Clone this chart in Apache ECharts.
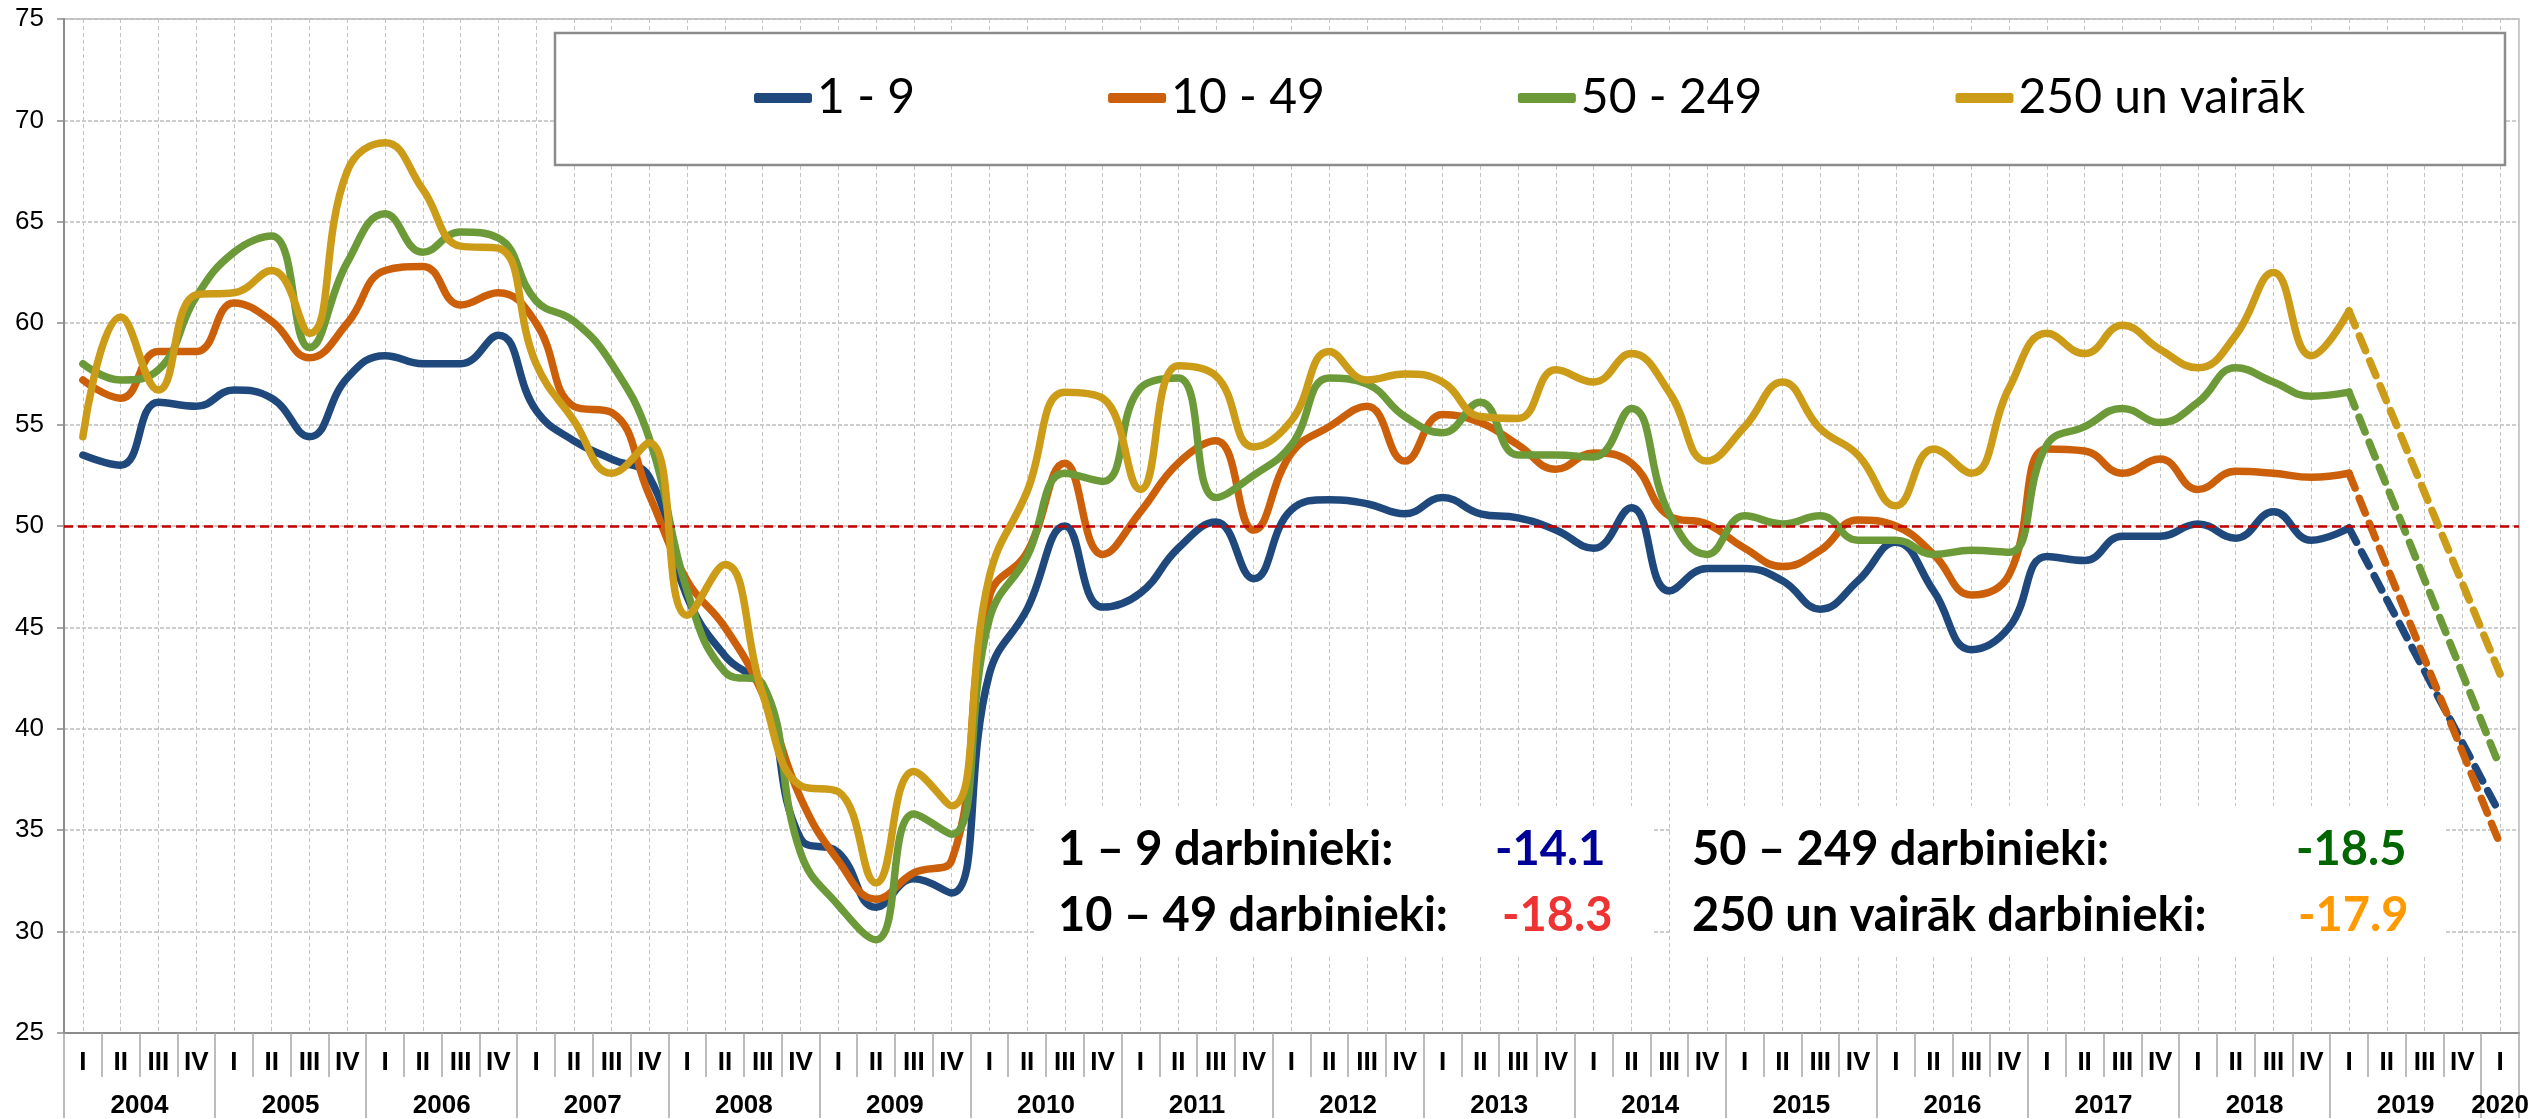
<!DOCTYPE html>
<html>
<head>
<meta charset="utf-8">
<title>Uzņēmumu grupas pēc darbinieku skaita</title>
<script src="https://cdn.jsdelivr.net/npm/echarts@6/dist/echarts.min.js"></script>
<style>
  html, body { margin: 0; padding: 0; background: #fff; }
  #main { width: 2532px; height: 1119px; }
</style>
</head>
<body>
<div id="main"></div>
<script>
// tick labels
const years = ['2004', '2005', '2006', '2007', '2008', '2009', '2010', '2011', '2012',
  '2013', '2014', '2015', '2016', '2017', '2018', '2019', '2020'];
const quarterNames = ['I', 'II', 'III', 'IV'];
const seriesNames = ['1 - 9', '10 - 49', '50 - 249', '250 un vairāk'];
const seriesColors = ['#1f497d', '#cc5f0a', '#6c9a38', '#cc9b17'];

// 2004 I ... 2019 I (solid lines)
const s1_9 = [53.5, 53.0, 56.1, 55.9, 56.7, 56.3, 54.4, 57.3, 58.4, 58.0, 58.0, 59.4,
  55.7, 54.2, 53.3, 52.4, 46.5, 43.6, 41.9, 34.6, 33.9, 31.2, 32.6, 31.9,
  42.7, 45.9, 50.0, 46.0, 46.7, 48.9, 50.2, 47.4, 50.8, 51.3, 51.1, 50.6,
  51.4, 50.6, 50.4, 49.8, 48.9, 50.9, 46.8, 47.9, 47.9, 47.3, 45.9, 47.3,
  49.2, 46.8, 43.9, 45.0, 48.5, 48.3, 49.5, 49.5, 50.1, 49.4, 50.7, 49.3, 49.9];
const s10_49 = [57.2, 56.3, 58.6, 58.6, 61.0, 60.1, 58.3, 60.0, 62.6, 62.8, 60.9, 61.5,
  60.0, 55.9, 55.6, 51.5, 47.3, 45.0, 41.7, 36.6, 33.5, 31.6, 32.9, 33.5,
  46.5, 48.7, 53.1, 48.6, 50.7, 53.1, 54.2, 49.8, 53.6, 54.9, 55.9, 53.2,
  55.5, 55.1, 54.0, 52.8, 53.6, 53.1, 50.5, 50.1, 48.9, 48.0, 48.8, 50.3,
  50.0, 48.6, 46.6, 47.6, 53.8, 53.7, 52.6, 53.3, 51.8, 52.7, 52.6, 52.4, 52.6];
const s50_249 = [58.0, 57.2, 57.7, 61.3, 63.5, 64.3, 58.8, 63.0, 65.4, 63.5, 64.5, 64.2,
  61.1, 60.1, 58.0, 54.3, 46.8, 42.8, 42.2, 33.9, 31.3, 29.6, 35.8, 34.8,
  45.4, 48.5, 52.6, 52.2, 56.8, 57.3, 51.4, 52.5, 54.0, 57.3, 57.0, 55.4,
  54.6, 56.1, 53.5, 53.5, 53.4, 55.8, 50.6, 48.6, 50.5, 50.1, 50.5, 49.3,
  49.3, 48.6, 48.8, 48.7, 54.0, 54.9, 55.8, 55.1, 56.1, 57.8, 57.1, 56.4, 56.6];
const s250 = [54.4, 60.3, 56.7, 61.4, 61.5, 62.6, 59.5, 67.5, 68.9, 66.6, 63.8, 63.7,
  58.0, 55.2, 52.6, 54.1, 45.6, 48.1, 41.7, 37.2, 36.9, 32.4, 37.9, 36.2,
  47.5, 51.7, 56.6, 56.3, 51.8, 57.9, 57.4, 53.9, 55.2, 58.6, 57.2, 57.5,
  57.1, 55.4, 55.3, 57.7, 57.1, 58.5, 56.6, 53.2, 54.9, 57.1, 54.8, 53.5,
  51.0, 53.8, 52.6, 56.8, 59.5, 58.5, 59.9, 58.7, 57.8, 59.4, 62.5, 58.4, 60.6];

// 2020 I forecast (dashed from 2019 I)
const forecast2020 = [35.8, 34.3, 38.1, 42.7];
const changes = ['-14.1', '-18.3', '-18.5', '-17.9'];
const changeLabels = ['1 – 9 darbinieki:', '10 – 49 darbinieki:', '50 – 249 darbinieki:', '250 un vairāk darbinieki:'];

// categories: every quarter from 2004 I to 2020 I
const categories = [];
years.forEach(function (y) {
  quarterNames.forEach(function (q) {
    if (y === '2020' && q !== 'I') return;
    categories.push(y + ' ' + q);
  });
});
const n = categories.length;

// year axis: half-quarter points so year labels sit between quarters
const halfPoints = [];
for (let i = 0; i <= n * 2; i++) halfPoints.push('');
years.forEach(function (y, k) {
  if (k * 8 + 4 < n * 2) halfPoints[k * 8 + 4] = y;
});
halfPoints[n * 2 - 1] = years[years.length - 1];

const solid = [s1_9, s10_49, s50_249, s250];

function dashedData(start, end) {
  const arr = new Array(n).fill(null);
  arr[n - 5] = start;
  arr[n - 1] = end;
  return arr;
}

const series = [];
solid.forEach(function (d, i) {
  series.push({
    name: seriesNames[i],
    type: 'line',
    data: d,
    smooth: 0.45,
    symbol: 'none',
    z: 2 + i,
    lineStyle: { color: seriesColors[i], width: 7.5, cap: 'round', join: 'round' },
    itemStyle: { color: seriesColors[i] },
    markLine: i === 0 ? {
      silent: true,
      symbol: 'none',
      label: { show: false },
      lineStyle: { color: '#c00000', width: 2.5, type: [9, 5] },
      data: [{ yAxis: 50 }]
    } : undefined
  });
});
solid.forEach(function (d, i) {
  series.push({
    name: seriesNames[i] + ' 2020',
    type: 'line',
    data: dashedData(d[d.length - 1], forecast2020[i]),
    connectNulls: true,
    symbol: 'none',
    z: 2 + i,
    lineStyle: { color: seriesColors[i], width: 7.5, type: [16, 11], cap: 'round' }
  });
});

const chart = echarts.init(document.getElementById('main'), null, { renderer: 'canvas' });

const boldFont = 'bold 47px Lato, "Open Sans", sans-serif';
const valueColors = ['#000099', '#ee3333', '#006600', '#ff9900'];
const axisFont = '"Liberation Sans", Arial, sans-serif';

const option = {
  animation: false,
  backgroundColor: '#fff',
  grid: {
    left: 64, right: 10, top: 19, bottom: 85,
    show: true, borderColor: '#b8b8b8', borderWidth: 1.5
  },
  legend: {
    data: seriesNames,
    left: 754, top: 70,
    padding: 0,
    itemGap: 193,
    itemWidth: 58, itemHeight: 10,
    icon: 'roundRect',
    z: 10,
    textStyle: { fontFamily: 'Lato, "Open Sans", sans-serif', fontSize: 48, color: '#000', lineHeight: 56 }
  },
  xAxis: [{
    type: 'category',
    data: categories,
    boundaryGap: true,
    axisLine: { lineStyle: { color: '#8c8c8c', width: 2 } },
    axisTick: { show: true, interval: 0, length: 44, lineStyle: { color: '#a6a6a6', width: 1.5 } },
    axisLabel: {
      interval: 0, margin: 17,
      fontFamily: axisFont, fontWeight: 'bold', fontSize: 26, color: '#000',
      formatter: function (v) { return v.split(' ')[1]; }
    },
    splitLine: { show: false }
  }, {
    type: 'category',
    data: halfPoints,
    boundaryGap: false,
    position: 'bottom',
    axisLine: { show: false },
    axisTick: {
      show: true, length: 85,
      interval: function (i) { return i % 8 === 0 || i === n * 2; },
      lineStyle: { color: '#a6a6a6', width: 1.5 }
    },
    axisLabel: {
      margin: 60,
      interval: function (i) { return halfPoints[i] !== ''; },
      fontFamily: axisFont, fontWeight: 'bold', fontSize: 26, color: '#000'
    },
    splitLine: {
      show: true,
      interval: function (i) { return i % 2 === 1; },
      lineStyle: { color: '#c4c4c4', width: 1, type: [4, 3] }
    }
  }],
  yAxis: {
    type: 'value',
    min: 25, max: 75, interval: 5,
    axisLine: { show: true, lineStyle: { color: '#8c8c8c', width: 2 } },
    axisTick: { show: true, length: 7, lineStyle: { color: '#8c8c8c', width: 1.5 } },
    axisLabel: { margin: 20, fontFamily: axisFont, fontSize: 26, color: '#000' },
    splitLine: { lineStyle: { color: '#bdbdbd', width: 1.5, type: [4, 2] } }
  },
  graphic: [
    // legend frame
    { type: 'rect', z: 3, shape: { x: 555, y: 33, width: 1950, height: 132 },
      style: { fill: '#fff', stroke: '#8c8c8c', lineWidth: 2.5 } },
    // two white boxes for the change notes
    { type: 'rect', z: 3, shape: { x: 1035, y: 806, width: 617, height: 150 }, style: { fill: '#fff' } },
    { type: 'rect', z: 3, shape: { x: 1672, y: 806, width: 774, height: 150 }, style: { fill: '#fff' } },
    { type: 'text', z: 5, x: 1058, y: 850, style: { text: changeLabels[0], font: boldFont, fill: '#000', verticalAlign: 'middle' } },
    { type: 'text', z: 5, x: 1058, y: 916, style: { text: changeLabels[1], font: boldFont, fill: '#000', verticalAlign: 'middle' } },
    { type: 'text', z: 5, x: 1692, y: 850, style: { text: changeLabels[2], font: boldFont, fill: '#000', verticalAlign: 'middle' } },
    { type: 'text', z: 5, x: 1692, y: 916, style: { text: changeLabels[3], font: boldFont, fill: '#000', verticalAlign: 'middle' } },
    { type: 'text', z: 5, x: 1495, y: 850, style: { text: changes[0], font: boldFont, fill: valueColors[0], verticalAlign: 'middle' } },
    { type: 'text', z: 5, x: 1502, y: 916, style: { text: changes[1], font: boldFont, fill: valueColors[1], verticalAlign: 'middle' } },
    { type: 'text', z: 5, x: 2296, y: 850, style: { text: changes[2], font: boldFont, fill: valueColors[2], verticalAlign: 'middle' } },
    { type: 'text', z: 5, x: 2298, y: 916, style: { text: changes[3], font: boldFont, fill: valueColors[3], verticalAlign: 'middle' } }
  ],
  series: series
};

chart.setOption(option);
</script>
</body>
</html>
